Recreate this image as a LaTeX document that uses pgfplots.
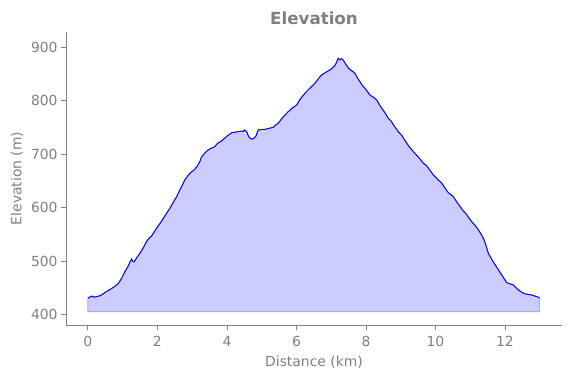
\documentclass[border=0pt]{standalone}
\usepackage{fontspec}
\setmainfont{DejaVu Sans}
\usepackage{pgfplots}
\usepackage{pgfplotstable}
\pgfplotsset{compat=1.18}
\usepgfplotslibrary{fillbetween}
\definecolor{txtgray}{HTML}{808080}
\definecolor{fillblue}{HTML}{CCCCFF}
\definecolor{edgeblue}{HTML}{AAAAFF}
\pgfplotstableread{
x y
0.00 431
0.05 433
0.11 435
0.18 433
0.25 434
0.32 435
0.39 437
0.50 442
0.63 447
0.75 452
0.87 458
0.97 468
1.07 481
1.16 491
1.22 500
1.26 504
1.29 500
1.33 499
1.42 508
1.50 515
1.60 526
1.69 537
1.76 543
1.83 547
1.91 555
1.98 562
2.08 571
2.17 580
2.27 590
2.36 599
2.43 607
2.50 615
2.55 620
2.60 627
2.70 640
2.79 652
2.85 657
2.89 661
2.98 667
3.03 669
3.08 672
3.15 678
3.22 686
3.27 695
3.35 701
3.46 708
3.55 711
3.65 714
3.70 718
3.75 721
3.85 725
3.94 730
4.03 735
4.14 740
4.24 741
4.33 742
4.42 743
4.47 742
4.50 745
4.57 742
4.61 735
4.66 730
4.73 728
4.78 730
4.83 733
4.87 740
4.90 745
5.00 746
5.09 746
5.20 748
5.33 750
5.40 754
5.48 758
5.60 768
5.76 779
5.88 786
6.01 792
6.10 802
6.20 810
6.29 817
6.40 824
6.53 832
6.62 840
6.73 848
6.85 853
6.96 857
7.04 861
7.11 866
7.16 872
7.20 879
7.25 876
7.29 878
7.33 877
7.39 871
7.44 866
7.50 860
7.56 857
7.63 854
7.68 851
7.75 843
7.83 835
7.90 828
7.97 823
8.05 816
8.12 810
8.22 806
8.31 801
8.38 793
8.45 786
8.55 777
8.64 767
8.72 762
8.80 754
8.93 742
9.03 735
9.12 726
9.22 716
9.32 708
9.40 702
9.50 695
9.58 689
9.65 683
9.75 678
9.85 669
9.94 661
10.06 653
10.18 646
10.28 636
10.37 628
10.45 624
10.51 621
10.61 611
10.71 602
10.80 594
10.90 587
10.97 580
11.04 574
11.14 567
11.23 559
11.31 551
11.38 543
11.45 530
11.52 515
11.59 507
11.66 499
11.78 487
11.90 475
11.97 468
12.05 460
12.14 458
12.24 456
12.31 451
12.38 447
12.48 442
12.58 439
12.68 438
12.77 437
12.86 435
12.96 433
12.99 431
}\elevdata
\begin{document}
\begin{tikzpicture}
\begin{axis}[
  scale only axis, width=496pt, height=293pt,
  xmin=-0.63, xmax=13.64, ymin=381, ymax=928,
  axis x line*=bottom, axis y line*=left,
  axis line style={-, txtgray, line width=0.8pt},
  xtick={0,2,...,12}, ytick={400,500,...,900},
  tick align=outside, major tick length=4.9pt,
  every tick/.style={txtgray, line width=0.8pt},
  tick label style={font=\fontsize{13.9}{16}\selectfont, text=txtgray},
  x tick label style={yshift=-3pt},
  /pgf/number format/assume math mode=true,
  xlabel={Distance (km)}, ylabel={Elevation (m)},
  every axis x label/.style={at={(axis description cs:0.5,0)}, yshift=-37pt, anchor=center, font=\fontsize{13.9}{16}\selectfont, text=txtgray},
  every axis y label/.style={at={(axis description cs:0,0.5)}, xshift=-49pt, anchor=center, rotate=90, font=\fontsize{13.9}{16}\selectfont, text=txtgray},
  title={Elevation},
  every axis title/.style={font=\bfseries\fontsize{16.7}{20}\selectfont, text=txtgray, at={(axis description cs:0.5,1)}, yshift=14pt, anchor=center},
  clip=false,
]
\addplot[name path=elev, draw=none] table[x=x,y=y] {\elevdata};
\addplot[name path=base, draw=none] coordinates {(0,406) (12.99,406)};
\addplot[fill=fillblue, draw=edgeblue, line width=0.8pt] fill between[of=elev and base];
\addplot[blue, line width=1.0pt] table[x=x,y=y] {\elevdata};
\coordinate (sw) at (rel axis cs:0,0);
\coordinate (ne) at (rel axis cs:1,1);
\end{axis}
\pgfresetboundingbox
\path[use as bounding box] ([xshift=-66pt,yshift=-53pt]sw) rectangle ([xshift=9pt,yshift=32pt]ne);
\end{tikzpicture}
\end{document}
